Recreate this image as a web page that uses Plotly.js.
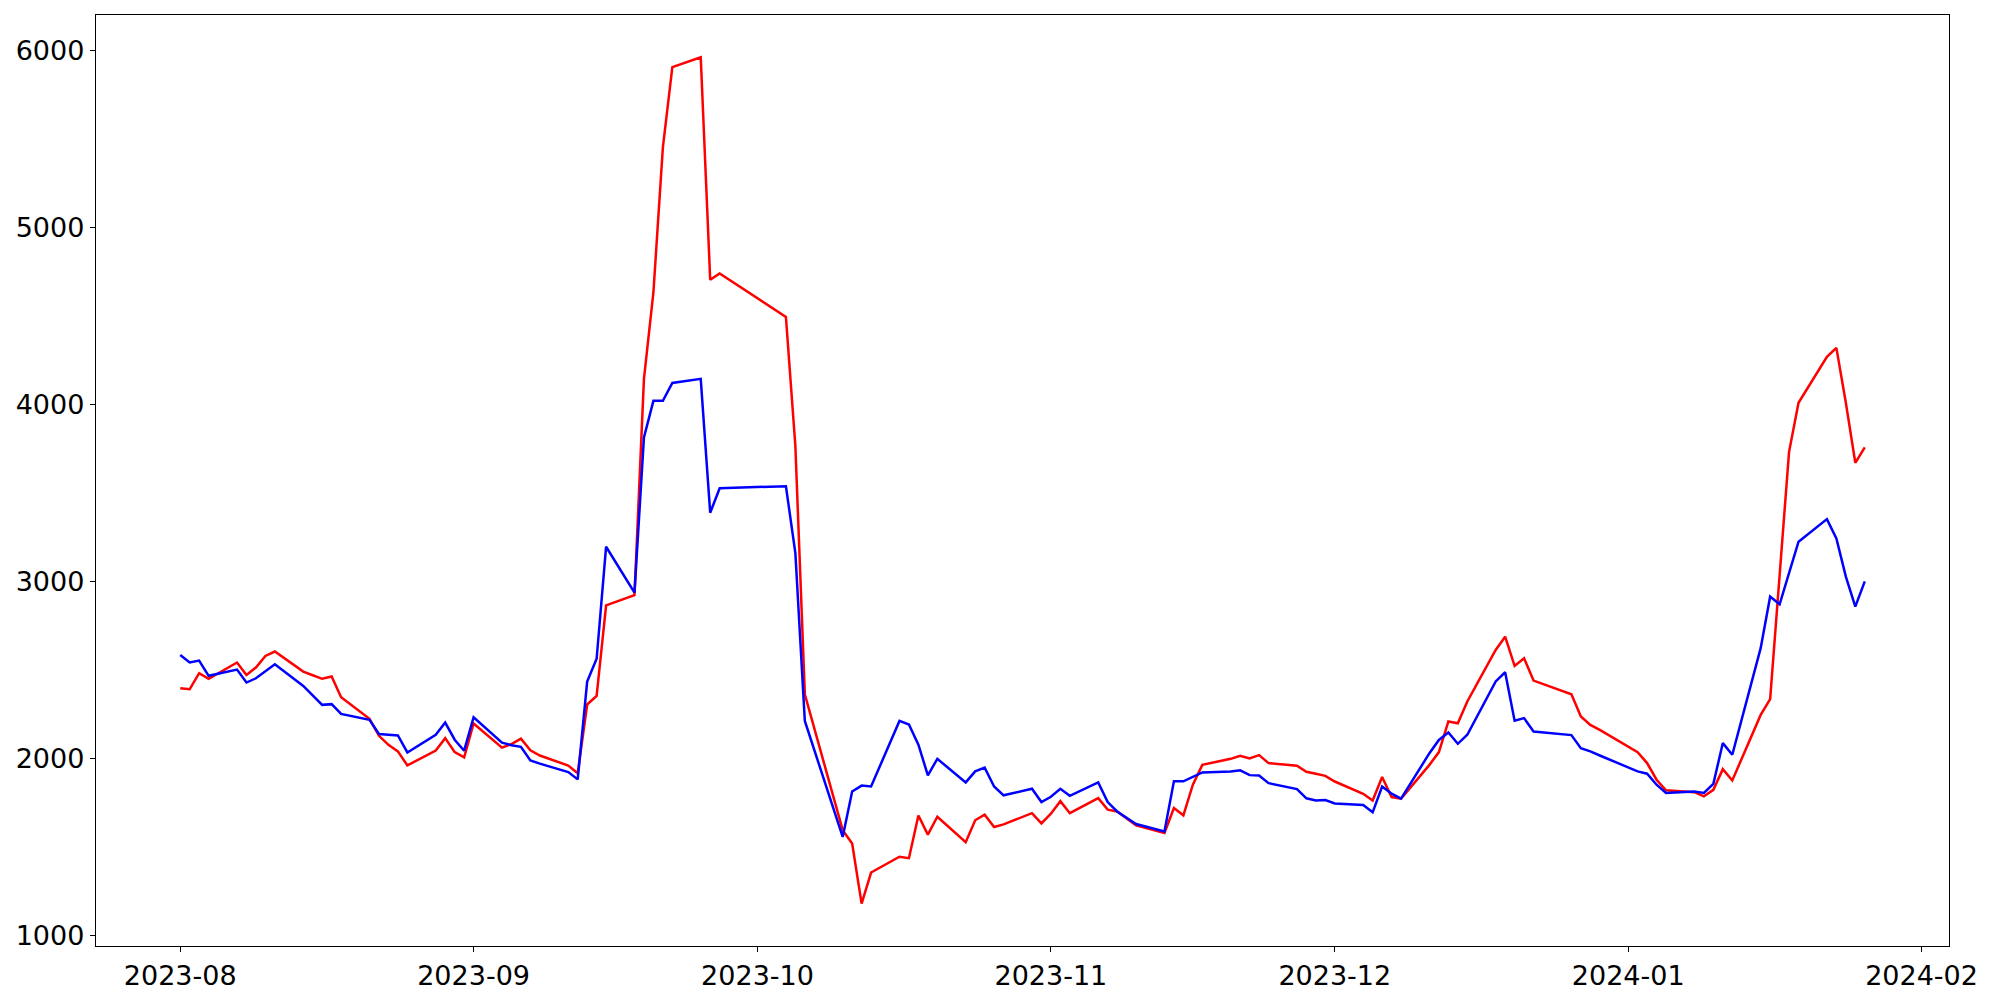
<!DOCTYPE html>
<html>
<head>
<meta charset="utf-8">
<script src="https://cdn.plot.ly/plotly-3.0.1.min.js"></script>
<style>html,body{margin:0;padding:0;background:#fff;}#chart{width:2000px;height:1000px;}</style>
</head>
<body>
<div id="chart"></div>
<script>
const dates = [
"2023-08-01","2023-08-02","2023-08-03","2023-08-04","2023-08-07","2023-08-08","2023-08-09","2023-08-10","2023-08-11",
"2023-08-14","2023-08-15","2023-08-16","2023-08-17","2023-08-18","2023-08-21","2023-08-22","2023-08-23","2023-08-24","2023-08-25",
"2023-08-28","2023-08-29","2023-08-30","2023-08-31","2023-09-01","2023-09-04","2023-09-05","2023-09-06","2023-09-07","2023-09-08",
"2023-09-11","2023-09-12","2023-09-13","2023-09-14","2023-09-15","2023-09-18","2023-09-19","2023-09-20","2023-09-21","2023-09-22",
"2023-09-25","2023-09-26","2023-09-27","2023-10-04","2023-10-05","2023-10-06","2023-10-10","2023-10-11","2023-10-12","2023-10-13",
"2023-10-16","2023-10-17","2023-10-18","2023-10-19","2023-10-20","2023-10-23","2023-10-24","2023-10-25","2023-10-26","2023-10-27",
"2023-10-30","2023-10-31","2023-11-01","2023-11-02","2023-11-03","2023-11-06","2023-11-07","2023-11-08","2023-11-09","2023-11-10",
"2023-11-13","2023-11-14","2023-11-15","2023-11-16","2023-11-17","2023-11-20","2023-11-21","2023-11-22","2023-11-23","2023-11-24",
"2023-11-27","2023-11-28","2023-11-29","2023-11-30","2023-12-01","2023-12-04","2023-12-05","2023-12-06","2023-12-07","2023-12-08",
"2023-12-11","2023-12-12","2023-12-13","2023-12-14","2023-12-15","2023-12-18","2023-12-19","2023-12-20","2023-12-21","2023-12-22",
"2023-12-26","2023-12-27","2023-12-28","2023-12-29","2024-01-02","2024-01-03","2024-01-04","2024-01-05",
"2024-01-08","2024-01-09","2024-01-10","2024-01-11","2024-01-12","2024-01-15","2024-01-16","2024-01-17","2024-01-18","2024-01-19",
"2024-01-22","2024-01-23","2024-01-24","2024-01-25","2024-01-26"
];

const redValues = [
2397,2391,2482,2450,2542,2472,2514,2579,2604,
2491,2470,2450,2463,2346,2224,2128,2077,2040,1961,
2045,2115,2036,2006,2198,2061,2081,2112,2046,2017,
1960,1917,2305,2354,2865,2923,4144,4632,5451,5905,
5960,4704,4739,4494,3765,2363,1595,1520,1180,1356,
1445,1437,1678,1570,1671,1527,1651,1683,1613,1628,
1691,1633,1688,1759,1691,1776,1711,1701,1664,1622,
1579,1720,1679,1852,1964,1998,2015,2000,2019,1974,
1959,1925,1914,1902,1870,1801,1763,1895,1782,1773,
1964,2036,2209,2199,2322,2613,2688,2523,2566,2440,
2363,2237,2190,2162,2036,1974,1880,1820,
1810,1786,1823,1940,1876,2246,2335,3030,3732,4009,
4268,4319,4009,3670,3757
];

const blueValues = [
2585,2542,2553,2467,2502,2429,2453,2491,2532,
2410,2359,2303,2307,2252,2218,2138,2134,2130,2034,
2134,2203,2106,2044,2233,2089,2075,2066,1989,1971,
1923,1882,2434,2563,3196,2937,3813,4020,4020,4121,
4144,3388,3526,3538,3160,2212,1557,1814,1847,1842,
2212,2192,2078,1905,1998,1865,1927,1948,1842,1792,
1829,1754,1784,1829,1789,1865,1754,1701,1664,1630,
1588,1871,1871,1895,1921,1927,1933,1906,1904,1861,
1827,1775,1763,1765,1746,1737,1696,1842,1801,1773,
2030,2105,2147,2083,2134,2435,2487,2213,2228,2152,
2132,2058,2040,2017,1927,1914,1852,1805,
1814,1805,1857,2087,2021,2623,2914,2871,3048,3224,
3352,3243,3027,2858,3000
];

const yTickVals = [1000,2000,3000,4000,5000,6000];

const traces = [
  {x: dates, y: redValues, type: 'scatter', mode: 'lines', line: {color: '#ff0000', width: 2.5}, showlegend: false},
  {x: dates, y: blueValues, type: 'scatter', mode: 'lines', line: {color: '#0000ff', width: 2.5}, showlegend: false}
];

const axisCommon = {
  showline: true, mirror: true, linecolor: '#000', linewidth: 1.2,
  ticks: 'outside', ticklen: 5, tickwidth: 1.2, tickcolor: '#000',
  showgrid: false, zeroline: false,
  tickfont: {family: 'DejaVu Sans', size: 27, color: '#000'}
};

const layout = {
  width: 2000, height: 1000,
  margin: {l: 96, r: 51, t: 15, b: 54, pad: 0},
  paper_bgcolor: '#fff', plot_bgcolor: '#fff',
  xaxis: Object.assign({}, axisCommon, {
    type: 'date',
    range: ['2023-07-23 02:24', '2024-02-03 21:36'],
    tick0: '2023-08-01', dtick: 'M1', tickformat: '%Y-%m'
  }),
  yaxis: Object.assign({}, axisCommon, {
    range: [941, 6199],
    tickvals: yTickVals, tickformat: 'd'
  })
};

Plotly.newPlot('chart', traces, layout, {staticPlot: true});
</script>
</body>
</html>
